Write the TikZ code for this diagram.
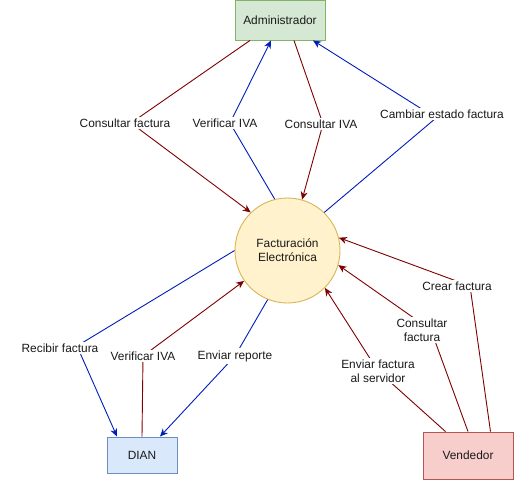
\documentclass[tikz,border=0pt]{standalone}
\usepackage{fontspec}
\setmainfont{Liberation Sans}
\usepackage{tikz}
\usepackage{xcolor}
\usetikzlibrary{arrows.meta}

\definecolor{flowred}{HTML}{7F0000}
\definecolor{flowblue}{HTML}{001DBC}
\definecolor{txtgray}{HTML}{1A1A1A}

\begin{document}
\begin{tikzpicture}[x=1pt, y=-1pt, line width=0.9pt,
    every node/.style={font=\fontsize{11.9}{13.8}\selectfont, text=txtgray},
    entity/.style={draw, inner sep=0pt},
    proc/.style={circle, draw=procline, fill=procfill, minimum size=105pt,
      inner sep=0pt, align=center},
    lbl/.style={fill=white, inner xsep=1pt, inner ysep=2pt, align=center},
    redflow/.style={draw=flowred, -{Stealth[length=8pt, width=7pt, inset=2.5pt]}},
    blueflow/.style={draw=flowblue, -{Stealth[length=8pt, width=7pt, inset=2.5pt]}}]
    \definecolor{procfill}{HTML}{FFF2CC}
    \definecolor{procline}{HTML}{D6B656}
    \useasboundingbox (0,0) rectangle (519,480);
    % entities
    \node[entity, draw={rgb,255:red,130;green,179;blue,102}, fill={rgb,255:red,213;green,232;blue,212},
          minimum width=90pt, minimum height=40pt] (admin) at (280,20) {Administrador};
    \node[entity, draw={rgb,255:red,108;green,142;blue,191}, fill={rgb,255:red,218;green,232;blue,252},
          minimum width=70pt, minimum height=36pt] (dian) at (142,455) {DIAN};
    \node[entity, draw={rgb,255:red,184;green,84;blue,80}, fill={rgb,255:red,248;green,206;blue,204},
          minimum width=90pt, minimum height=47pt] (vend) at (468,455.5) {Vendedor};
    % process
    \node[proc] (fe) at (287.5,250.5) {Facturaci\'on\\Electr\'onica};
    % bend points
    \coordinate (w1) at (131,123);
    \coordinate (w2) at (230,123);
    \coordinate (w3) at (323,124);
    \coordinate (w4) at (436,118);
    \coordinate (w5) at (77,346);
    \coordinate (w6) at (143,356);
    \coordinate (w7) at (235,356);
    \coordinate (w8) at (378,371);
    \coordinate (w9) at (431,330);
    \coordinate (w10) at (470,286);
    % flows to and from the administrator
    \draw[redflow] ([xshift=-30pt]admin.south) -- (w1) -- (fe.134);
    \draw[blueflow] (fe.104) -- (w2) -- ([xshift=-9pt]admin.south);
    \draw[redflow] ([xshift=14pt]admin.south) -- (w3) -- (fe.74);
    \draw[blueflow] (fe.46) -- (w4) -- ([xshift=33pt]admin.south);
    % flows to and from DIAN
    \draw[blueflow] (fe.west) -- (w5) -- ([xshift=-25pt]dian.north);
    \draw[redflow] (dian.north) -- (w6) -- (fe.-145);
    \draw[blueflow] (fe.-112) -- (w7) -- ([xshift=18pt]dian.north);
    % flows from the seller
    \draw[redflow] ([xshift=-22.5pt]vend.north) -- (w8) -- (fe.-45);
    \draw[redflow] (vend.north) -- (w9) -- (fe.-16);
    \draw[redflow] ([xshift=22.5pt]vend.north) -- (w10) -- (fe.14);
    % labels
    \node[lbl] (l1) at (125,123) {Consultar factura};
    \node[lbl] (l2) at (225,123) {Verificar IVA};
    \node[lbl] (l3) at (321,124) {Consultar IVA};
    \node[lbl] (l4) at (442,114) {Cambiar estado factura};
    \node[lbl] (l5) at (60,348) {Recibir factura};
    \node[lbl] (l6) at (143,356) {Verificar IVA};
    \node[lbl] (l7) at (235,356) {Enviar reporte};
    \node[lbl] (l8) at (378,371) {Enviar factura\\al servidor};
    \node[lbl] (l9) at (422,330) {Consultar\\factura};
    \node[lbl] (l10) at (457,286) {Crear factura};
\end{tikzpicture}
\end{document}
